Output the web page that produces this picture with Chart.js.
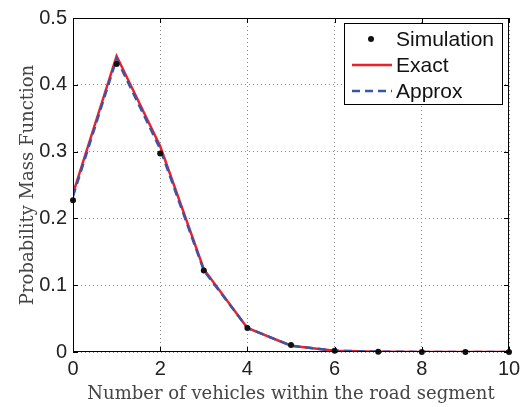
<!DOCTYPE html>
<html>
<head>
<meta charset="utf-8">
<script src="https://cdn.jsdelivr.net/npm/chart.js@4.4.0/dist/chart.umd.min.js"></script>
<style>
  html, body { margin: 0; padding: 0; background: #fff; }
  #wrap { width: 528px; height: 407px; }
</style>
</head>
<body>
<div id="wrap"><canvas id="pmf"></canvas></div>
<script>
// number of vehicles in the segment
const vehicles = [0, 1, 2, 3, 4, 5, 6, 7, 8, 9, 10];
const simulation = [0.227, 0.431, 0.297, 0.122, 0.036, 0.0105, 0.002, 0.0004, 0.0001, 0, 0];
const exact = [0.237, 0.443, 0.308, 0.124, 0.036, 0.0095, 0.002, 0.0004, 0.0001, 0, 0];
const approx = [0.233, 0.439, 0.304, 0.122, 0.036, 0.0095, 0.002, 0.0004, 0.0001, 0, 0];
const xTicks = [0, 2, 4, 6, 8, 10];
const yTicks = [0, 0.1, 0.2, 0.3, 0.4, 0.5];

const toPoints = (ys) => vehicles.map((x, i) => ({ x, y: ys[i] }));

// axes frame, inward tick marks and the boxed legend
const framePlugin = {
  id: 'frame',
  afterDatasetsDraw(chart) {
    const { ctx, chartArea: a, scales } = chart;
    ctx.save();
    ctx.strokeStyle = '#000';
    ctx.lineWidth = 1;
    ctx.strokeRect(a.left + 0.5, a.top + 0.5, a.width - 1, a.height - 1);
    ctx.beginPath();
    xTicks.forEach(t => {
      const px = Math.round(scales.x.getPixelForValue(t)) + 0.5;
      ctx.moveTo(px, a.bottom); ctx.lineTo(px, a.bottom - 5);
      ctx.moveTo(px, a.top); ctx.lineTo(px, a.top + 5);
    });
    yTicks.forEach(t => {
      const py = Math.round(scales.y.getPixelForValue(t)) + 0.5;
      ctx.moveTo(a.left, py); ctx.lineTo(a.left + 5, py);
      ctx.moveTo(a.right, py); ctx.lineTo(a.right - 5, py);
    });
    ctx.stroke();

    // legend
    const box = { x: 344.5, y: 23.5, w: 158, h: 81 };
    ctx.fillStyle = '#fff';
    ctx.fillRect(box.x, box.y, box.w, box.h);
    ctx.strokeRect(box.x, box.y, box.w, box.h);
    ctx.font = '21px "Liberation Sans", Arial, sans-serif';
    ctx.textBaseline = 'middle';
    ctx.textAlign = 'left';
    chart.data.datasets.forEach((ds, i) => {
      const cy = 39 + i * 26;
      if (ds.showLine === false) {
        ctx.fillStyle = ds.pointBackgroundColor;
        ctx.beginPath();
        ctx.arc(371, cy, 3, 0, Math.PI * 2);
        ctx.fill();
      } else {
        ctx.strokeStyle = ds.borderColor;
        ctx.lineWidth = ds.borderWidth;
        ctx.setLineDash(ds.borderDash || []);
        ctx.beginPath();
        ctx.moveTo(352, cy); ctx.lineTo(392, cy);
        ctx.stroke();
        ctx.setLineDash([]);
      }
      ctx.fillStyle = '#111';
      ctx.fillText(ds.label, 396, cy + 1);
    });
    ctx.restore();
  }
};

new Chart(document.getElementById('pmf'), {
  type: 'line',
  data: {
    datasets: [
      {
        label: 'Simulation',
        data: toPoints(simulation),
        showLine: false,
        pointRadius: 3,
        pointBackgroundColor: '#111',
        pointBorderWidth: 0,
        clip: false,
        order: 0
      },
      {
        label: 'Exact',
        data: toPoints(exact),
        borderColor: '#f0202a',
        borderWidth: 2.5,
        pointRadius: 0,
        tension: 0,
        order: 2
      },
      {
        label: 'Approx',
        data: toPoints(approx),
        borderColor: '#3a55a8',
        borderWidth: 2.5,
        borderDash: [8, 5],
        pointRadius: 0,
        tension: 0,
        order: 1
      }
    ]
  },
  options: {
    responsive: true,
    maintainAspectRatio: false,
    animation: false,
    events: [],
    layout: { padding: { left: 8, right: 19, top: 17, bottom: 2 } },
    plugins: { legend: { display: false }, tooltip: { enabled: false } },
    scales: {
      x: {
        type: 'linear',
        min: 0,
        max: 10,
        afterBuildTicks: (axis) => { axis.ticks = xTicks.map(v => ({ value: v })); },
        afterFit: (axis) => { axis.height = 53; },
        grid: { color: '#888', lineWidth: 1, drawTicks: false },
        border: { display: false, dash: [1, 3] },
        ticks: {
          color: '#222',
          padding: 5,
          maxRotation: 0,
          font: { family: '"Liberation Sans", Arial, sans-serif', size: 20 }
        },
        title: {
          display: true,
          text: 'Number of vehicles within the road segment',
          color: '#444',
          padding: { top: 0, bottom: 0 },
          font: { family: '"DejaVu Serif", serif', size: 18 }
        }
      },
      y: {
        min: 0,
        max: 0.5,
        afterBuildTicks: (axis) => { axis.ticks = yTicks.map(v => ({ value: v })); },
        afterFit: (axis) => { axis.width = 65; },
        grid: { color: '#888', lineWidth: 1, drawTicks: false },
        border: { display: false, dash: [1, 3] },
        ticks: {
          color: '#222',
          padding: 6,
          font: { family: '"Liberation Sans", Arial, sans-serif', size: 20 }
        },
        title: {
          display: true,
          text: 'Probability Mass Function',
          color: '#444',
          padding: { top: 10, bottom: 0 },
          font: { family: '"DejaVu Serif", serif', size: 18 }
        }
      }
    }
  },
  plugins: [framePlugin]
});
</script>
</body>
</html>
